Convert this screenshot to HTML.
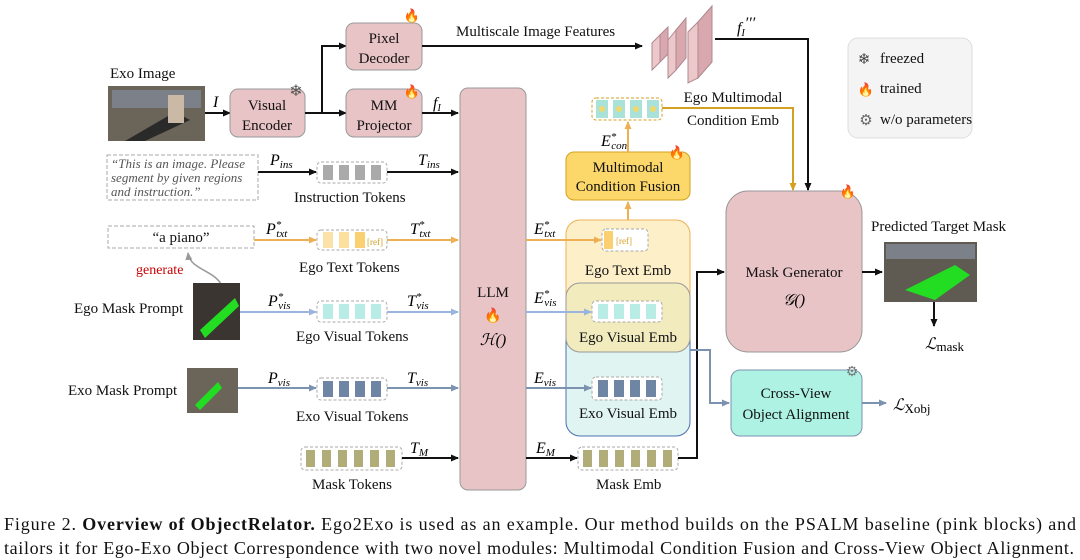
<!DOCTYPE html>
<html><head><meta charset="utf-8"><style>
body{margin:0;background:#fff}
svg{display:block;font-family:"Liberation Serif",serif}
.t{font-size:15px;fill:#111}
.m{font-style:italic;font-size:16px}
</style></head><body>
<svg width="1080" height="560" viewBox="0 0 1080 560" xmlns="http://www.w3.org/2000/svg">
<defs>
<marker id="ak" markerWidth="8" markerHeight="8" refX="7" refY="4" orient="auto" markerUnits="userSpaceOnUse"><path d="M0,0.5 L8,4 L0,7.5z" fill="#111"/></marker>
<marker id="ao" markerWidth="8" markerHeight="8" refX="7" refY="4" orient="auto" markerUnits="userSpaceOnUse"><path d="M0,0.5 L8,4 L0,7.5z" fill="#eeb055"/></marker>
<marker id="ad" markerWidth="8" markerHeight="8" refX="7" refY="4" orient="auto" markerUnits="userSpaceOnUse"><path d="M0,0.5 L8,4 L0,7.5z" fill="#d4a020"/></marker>
<marker id="ab" markerWidth="8" markerHeight="8" refX="7" refY="4" orient="auto" markerUnits="userSpaceOnUse"><path d="M0,0.5 L8,4 L0,7.5z" fill="#9ab4e0"/></marker>
<marker id="ag" markerWidth="8" markerHeight="8" refX="7" refY="4" orient="auto" markerUnits="userSpaceOnUse"><path d="M0,0.5 L8,4 L0,7.5z" fill="#7b93b0"/></marker>
<marker id="agr" markerWidth="8" markerHeight="8" refX="7" refY="4" orient="auto" markerUnits="userSpaceOnUse"><path d="M0,0.5 L8,4 L0,7.5z" fill="#999"/></marker>
</defs>

<!-- Exo image -->
<text x="110" y="78" class="t">Exo Image</text>
<rect x="108" y="86" width="97" height="55" fill="#6b6458"/>
<rect x="112" y="90" width="89" height="18" fill="#7c8088"/>
<path d="M125,141 L175,112 L190,120 L145,141z" fill="#2a2a2a"/>
<rect x="168" y="95" width="16" height="28" fill="#c9b9a5"/>
<line x1="205" y1="113" x2="230" y2="113" stroke="#111" stroke-width="2" marker-end="url(#ak)"/>
<text x="213" y="107" class="m">I</text>

<!-- Visual Encoder -->
<rect x="230" y="89" width="75" height="48" rx="8" fill="#e8c4c6" stroke="#999"/>
<text x="267" y="110" class="t" text-anchor="middle">Visual</text>
<text x="267" y="130" class="t" text-anchor="middle">Encoder</text>
<text x="296" y="96" font-size="16" fill="#555" text-anchor="middle">❄</text>

<path d="M305,113 H322 V46 H346" fill="none" stroke="#111" stroke-width="2" marker-end="url(#ak)"/>
<line x1="322" y1="113" x2="346" y2="113" stroke="#111" stroke-width="2" marker-end="url(#ak)"/>

<rect x="346" y="23" width="76" height="47" rx="8" fill="#e8c4c6" stroke="#999"/>
<text x="384" y="43" class="t" text-anchor="middle">Pixel</text>
<text x="384" y="63" class="t" text-anchor="middle">Decoder</text>
<text x="412" y="20" font-size="13" fill="#f06020" text-anchor="middle">🔥</text>

<rect x="346" y="89" width="76" height="48" rx="8" fill="#e8c4c6" stroke="#999"/>
<text x="384" y="110" class="t" text-anchor="middle">MM</text>
<text x="384" y="130" class="t" text-anchor="middle">Projector</text>
<text x="412" y="96" font-size="13" fill="#f06020" text-anchor="middle">🔥</text>
<line x1="422" y1="113" x2="458" y2="113" stroke="#111" stroke-width="2" marker-end="url(#ak)"/>
<text x="433" y="108" class="m">f<tspan font-size="10" dy="3">I</tspan></text>

<line x1="422" y1="46" x2="642" y2="46" stroke="#111" stroke-width="2" marker-end="url(#ak)"/>
<text x="456" y="36" class="t">Multiscale Image Features</text>

<!-- feature stack -->
<g fill="#ecc8ca" stroke="#b08890" stroke-width="1">
<path d="M652,43 L660,35 L660,62 L652,70z"/><path d="M660,35 L668,27 L668,54 L660,62z" fill="#d8a8ae"/>
<path d="M668,40 L676,30 L676,70 L668,78z"/><path d="M676,30 L686,18 L686,58 L676,70z" fill="#d8a8ae"/>
<path d="M688,32 L698,22 L698,78 L688,83z"/><path d="M698,22 L712,6 L712,62 L698,78z" fill="#d8a8ae"/>
</g>
<text x="737" y="33" class="m">f<tspan font-size="10" dy="3">I</tspan><tspan dy="-8">′′′</tspan></text>
<path d="M715,39 H808 V190" fill="none" stroke="#111" stroke-width="2" marker-end="url(#ak)"/>

<!-- legend -->
<rect x="848" y="38" width="124" height="100" rx="10" fill="#f4f4f4" stroke="#ddd"/>
<text x="864" y="64" font-size="15" fill="#444" text-anchor="middle">❄</text><text x="880" y="63" class="t" font-size="13.5">freezed</text>
<text x="866" y="94" font-size="13" text-anchor="middle">🔥</text><text x="880" y="93" class="t" font-size="13.5">trained</text>
<text x="866" y="125" font-size="15" fill="#666" text-anchor="middle">⚙</text><text x="880" y="124" class="t" font-size="13.5">w/o parameters</text>

<!-- LLM -->
<rect x="460" y="88" width="66" height="402" rx="8" fill="#e8c4c6" stroke="#999"/>
<text x="493" y="297" class="t" font-size="16" text-anchor="middle">LLM</text>
<text x="493" y="320" font-size="14" text-anchor="middle">🔥</text>
<text x="493" y="345" class="m" text-anchor="middle">ℋ()</text>

<!-- instruction -->
<rect x="107" y="155" width="151" height="45" fill="#fff" stroke="#aaa" stroke-dasharray="4,2"/>
<text x="111" y="168" font-size="13" font-style="italic" fill="#555">“This is an image. Please</text>
<text x="111" y="182" font-size="13" font-style="italic" fill="#555">segment by given regions</text>
<text x="111" y="196" font-size="13" font-style="italic" fill="#555">and instruction.”</text>
<line x1="258" y1="172" x2="316" y2="172" stroke="#111" stroke-width="2" marker-end="url(#ak)"/>
<text x="270" y="165" class="m">P<tspan font-size="11" dy="3">ins</tspan></text>
<rect x="317" y="162" width="70" height="21" rx="4" fill="#fff" stroke="#aaa" stroke-dasharray="3,2"/>
<g fill="#aaa"><rect x="323" y="165" width="10" height="15"/><rect x="339" y="165" width="10" height="15"/><rect x="355" y="165" width="10" height="15"/><rect x="371" y="165" width="10" height="15"/></g>
<line x1="387" y1="172" x2="458" y2="172" stroke="#111" stroke-width="2" marker-end="url(#ak)"/>
<text x="418" y="165" class="m">T<tspan font-size="11" dy="3">ins</tspan></text>
<text x="294" y="202" class="t" font-size="14">Instruction  Tokens</text>

<!-- a piano -->
<rect x="108" y="226" width="146" height="22" fill="#fff" stroke="#aaa" stroke-dasharray="4,2"/>
<text x="181" y="242" class="t" font-size="14" text-anchor="middle">“a piano”</text>
<line x1="254" y1="240" x2="316" y2="240" stroke="#eeb055" stroke-width="2" marker-end="url(#ao)"/>
<text x="266" y="234" class="m">P<tspan font-size="11" dy="-6">*</tspan><tspan font-size="11" dy="9" dx="-5">txt</tspan></text>
<rect x="317" y="230" width="70" height="20" rx="4" fill="#fff" stroke="#aaa" stroke-dasharray="3,2"/>
<rect x="323" y="232" width="10" height="16" fill="#fbe3a8"/><rect x="339" y="232" width="10" height="16" fill="#fbe0a0"/><rect x="355" y="232" width="10" height="16" fill="#fad070"/>
<text x="367" y="245" font-size="9" fill="#d4a020">[ref]</text>
<line x1="387" y1="240" x2="458" y2="240" stroke="#eeb055" stroke-width="2" marker-end="url(#ao)"/>
<text x="410" y="234" class="m">T<tspan font-size="11" dy="-6">*</tspan><tspan font-size="11" dy="9" dx="-5">txt</tspan></text>
<text x="299" y="272" class="t" font-size="14">Ego Text Tokens</text>
<text x="136" y="274" font-size="14" fill="#c00">generate</text>
<path d="M222,286 C215,270 190,270 188,253" fill="none" stroke="#999" stroke-width="1.5" marker-end="url(#agr)"/>

<!-- ego mask prompt -->
<text x="74" y="313" class="t">Ego Mask Prompt</text>
<rect x="193" y="283" width="47" height="57" fill="#3a3530"/>
<path d="M200,330 L235,298 L239,306 L205,338z" fill="#22dd22"/>
<line x1="240" y1="312" x2="316" y2="312" stroke="#9ab4e0" stroke-width="2" marker-end="url(#ab)"/>
<text x="268" y="306" class="m">P<tspan font-size="11" dy="-6">*</tspan><tspan font-size="11" dy="9" dx="-5">vis</tspan></text>
<rect x="317" y="301" width="70" height="21" rx="4" fill="#fff" stroke="#aaa" stroke-dasharray="3,2"/>
<g fill="#b8ece4"><rect x="323" y="304" width="10" height="15"/><rect x="339" y="304" width="10" height="15"/><rect x="355" y="304" width="10" height="15"/><rect x="371" y="304" width="10" height="15"/></g>
<line x1="387" y1="312" x2="458" y2="312" stroke="#9ab4e0" stroke-width="2" marker-end="url(#ab)"/>
<text x="407" y="306" class="m">T<tspan font-size="11" dy="-6">*</tspan><tspan font-size="11" dy="9" dx="-5">vis</tspan></text>
<text x="296" y="341" class="t" font-size="14">Ego Visual Tokens</text>

<!-- exo mask prompt -->
<text x="68" y="395" class="t">Exo Mask Prompt</text>
<rect x="187" y="368" width="51" height="45" fill="#6b6458"/>
<path d="M195,405 L218,382 L222,388 L200,410z" fill="#22dd22"/>
<line x1="238" y1="388" x2="316" y2="388" stroke="#7b93b0" stroke-width="2" marker-end="url(#ag)"/>
<text x="268" y="383" class="m">P<tspan font-size="11" dy="3">vis</tspan></text>
<rect x="317" y="378" width="70" height="22" rx="4" fill="#fff" stroke="#aaa" stroke-dasharray="3,2"/>
<g fill="#6e86a3"><rect x="323" y="381" width="10" height="16"/><rect x="339" y="381" width="10" height="16"/><rect x="355" y="381" width="10" height="16"/><rect x="371" y="381" width="10" height="16"/></g>
<line x1="387" y1="388" x2="458" y2="388" stroke="#7b93b0" stroke-width="2" marker-end="url(#ag)"/>
<text x="407" y="383" class="m">T<tspan font-size="11" dy="3">vis</tspan></text>
<text x="296" y="421" class="t" font-size="14">Exo Visual Tokens</text>

<!-- mask tokens -->
<rect x="301" y="447" width="101" height="23" rx="4" fill="#fff" stroke="#aaa" stroke-dasharray="3,2"/>
<g fill="#b0ad78"><rect x="306" y="450" width="9" height="17"/><rect x="322" y="450" width="9" height="17"/><rect x="338" y="450" width="9" height="17"/><rect x="354" y="450" width="9" height="17"/><rect x="370" y="450" width="9" height="17"/><rect x="386" y="450" width="9" height="17"/></g>
<line x1="402" y1="458" x2="458" y2="458" stroke="#111" stroke-width="2" marker-end="url(#ak)"/>
<text x="410" y="453" class="m">T<tspan font-size="11" dy="3">M</tspan></text>
<text x="312" y="489" class="t" font-size="14">Mask Tokens</text>

<!-- right stacks -->
<rect x="566" y="283" width="124" height="153" rx="14" fill="#e0f4f2" stroke="#4a70b0"/>
<rect x="566" y="220" width="124" height="115" rx="14" fill="#fdefc8" stroke="#eeb055"/>
<rect x="566" y="283" width="124" height="69" rx="14" fill="#f1ebbe" stroke="#999"/>
<text x="628" y="275" class="t" text-anchor="middle">Ego Text Emb</text>
<text x="628" y="342" class="t" text-anchor="middle">Ego Visual Emb</text>
<text x="628" y="418" class="t" text-anchor="middle">Exo Visual Emb</text>

<line x1="526" y1="240" x2="601" y2="240" stroke="#eeb055" stroke-width="2" marker-end="url(#ao)"/>
<text x="534" y="234" class="m">E<tspan font-size="11" dy="-6">*</tspan><tspan font-size="11" dy="9" dx="-5">txt</tspan></text>
<rect x="602" y="229" width="46" height="22" rx="4" fill="#fff" stroke="#aaa" stroke-dasharray="3,2"/>
<rect x="604" y="231" width="9" height="18" fill="#fad070"/><text x="616" y="244" font-size="9" fill="#d4a020">[ref]</text>

<line x1="526" y1="312" x2="591" y2="312" stroke="#9ab4e0" stroke-width="2" marker-end="url(#ab)"/>
<text x="534" y="303" class="m">E<tspan font-size="11" dy="-6">*</tspan><tspan font-size="11" dy="9" dx="-5">vis</tspan></text>
<rect x="592" y="301" width="70" height="21" rx="4" fill="#fff" stroke="#aaa" stroke-dasharray="3,2"/>
<g fill="#b8ece4"><rect x="598" y="304" width="10" height="15"/><rect x="614" y="304" width="10" height="15"/><rect x="630" y="304" width="10" height="15"/><rect x="646" y="304" width="10" height="15"/></g>

<line x1="526" y1="388" x2="591" y2="388" stroke="#7b93b0" stroke-width="2" marker-end="url(#ag)"/>
<text x="534" y="383" class="m">E<tspan font-size="11" dy="3">vis</tspan></text>
<rect x="592" y="377" width="70" height="23" rx="4" fill="#fff" stroke="#aaa" stroke-dasharray="3,2"/>
<g fill="#6e86a3"><rect x="598" y="380" width="10" height="17"/><rect x="614" y="380" width="10" height="17"/><rect x="630" y="380" width="10" height="17"/><rect x="646" y="380" width="10" height="17"/></g>

<line x1="526" y1="458" x2="577" y2="458" stroke="#111" stroke-width="2" marker-end="url(#ak)"/>
<text x="536" y="453" class="m">E<tspan font-size="11" dy="3">M</tspan></text>
<rect x="578" y="447" width="100" height="23" rx="4" fill="#fff" stroke="#aaa" stroke-dasharray="3,2"/>
<g fill="#b0ad78"><rect x="583" y="450" width="9" height="17"/><rect x="599" y="450" width="9" height="17"/><rect x="615" y="450" width="9" height="17"/><rect x="631" y="450" width="9" height="17"/><rect x="647" y="450" width="9" height="17"/><rect x="663" y="450" width="9" height="17"/></g>
<text x="596" y="489" class="t" font-size="14">Mask Emb</text>
<path d="M678,458 H697 V272 H724" fill="none" stroke="#111" stroke-width="2" marker-end="url(#ak)"/>

<!-- Fusion -->
<line x1="628" y1="220" x2="628" y2="202" stroke="#eeb055" stroke-width="2" marker-end="url(#ao)"/>
<rect x="566" y="152" width="124" height="48" rx="8" fill="#fcd76a" stroke="#d4a020"/>
<text x="628" y="172" class="t" text-anchor="middle">Multimodal</text>
<text x="628" y="191" class="t" text-anchor="middle">Condition Fusion</text>
<text x="677" y="157" font-size="13" text-anchor="middle">🔥</text>
<line x1="628" y1="152" x2="628" y2="122" stroke="#eeb055" stroke-width="2" marker-end="url(#ao)"/>
<text x="601" y="146" class="m">E<tspan font-size="11" dy="-6">*</tspan><tspan font-size="11" dy="9" dx="-5">con</tspan></text>
<rect x="592" y="98" width="70" height="22" rx="4" fill="#fff" stroke="#d4a020" stroke-dasharray="3,2"/>
<g fill="#a8e2d8"><rect x="596" y="100" width="12" height="18"/><rect x="613" y="100" width="12" height="18"/><rect x="630" y="100" width="12" height="18"/><rect x="647" y="100" width="12" height="18"/></g>
<g fill="#f0d870"><circle cx="602" cy="109" r="3"/><circle cx="619" cy="109" r="3"/><circle cx="636" cy="109" r="3"/><circle cx="653" cy="109" r="3"/></g>
<text x="733" y="102" class="t" text-anchor="middle">Ego Multimodal</text>
<text x="733" y="125" class="t" text-anchor="middle">Condition Emb</text>
<path d="M662,108 H793 V190" fill="none" stroke="#d4a020" stroke-width="2" marker-end="url(#ad)"/>

<!-- Mask generator -->
<rect x="726" y="191" width="136" height="161" rx="22" fill="#e8c4c6" stroke="#999"/>
<text x="794" y="277" class="t" font-size="15.5" text-anchor="middle">Mask Generator</text>
<text x="794" y="305" class="m" text-anchor="middle">𝒢()</text>
<text x="848" y="196" font-size="13" text-anchor="middle">🔥</text>
<line x1="862" y1="272" x2="882" y2="272" stroke="#111" stroke-width="2" marker-end="url(#ak)"/>
<text x="871" y="231" class="t">Predicted Target Mask</text>
<rect x="884" y="242" width="93" height="60" fill="#5f5a52"/>
<rect x="886" y="244" width="89" height="15" fill="#7c8088"/>
<path d="M905,290 L955,265 L970,275 L935,300z" fill="#22dd22"/>
<line x1="934" y1="302" x2="934" y2="326" stroke="#111" stroke-width="2" marker-end="url(#ak)"/>
<text x="925" y="349" class="m">ℒ<tspan font-style="normal" font-size="13" dy="2">mask</tspan></text>

<!-- cross view -->
<path d="M690,350 H710 V403 H729" fill="none" stroke="#7b93b0" stroke-width="2" marker-end="url(#ag)"/>
<rect x="731" y="370" width="131" height="66" rx="9" fill="#aef2e4" stroke="#7b93b0"/>
<text x="796" y="398" class="t" text-anchor="middle">Cross-View</text>
<text x="796" y="419" class="t" text-anchor="middle">Object Alignment</text>
<text x="852" y="376" font-size="14" fill="#777" text-anchor="middle">⚙</text>
<line x1="862" y1="403" x2="886" y2="403" stroke="#7b93b0" stroke-width="2" marker-end="url(#ag)"/>
<text x="893" y="410" class="m">ℒ<tspan font-style="normal" font-size="13" dy="3">Xobj</tspan></text>

<!-- caption -->
<text x="4" y="530" font-size="18" fill="#111" textLength="1072" lengthAdjust="spacing">Figure 2.  <tspan font-weight="bold">Overview of ObjectRelator.</tspan> Ego2Exo is used as an example.  Our method builds on the PSALM baseline (pink blocks) and</text>
<text x="4" y="554" font-size="18" fill="#111" textLength="1070" lengthAdjust="spacing">tailors it for Ego-Exo Object Correspondence with two novel modules: Multimodal Condition Fusion and Cross-View Object Alignment.</text>
</svg>
</body></html>
